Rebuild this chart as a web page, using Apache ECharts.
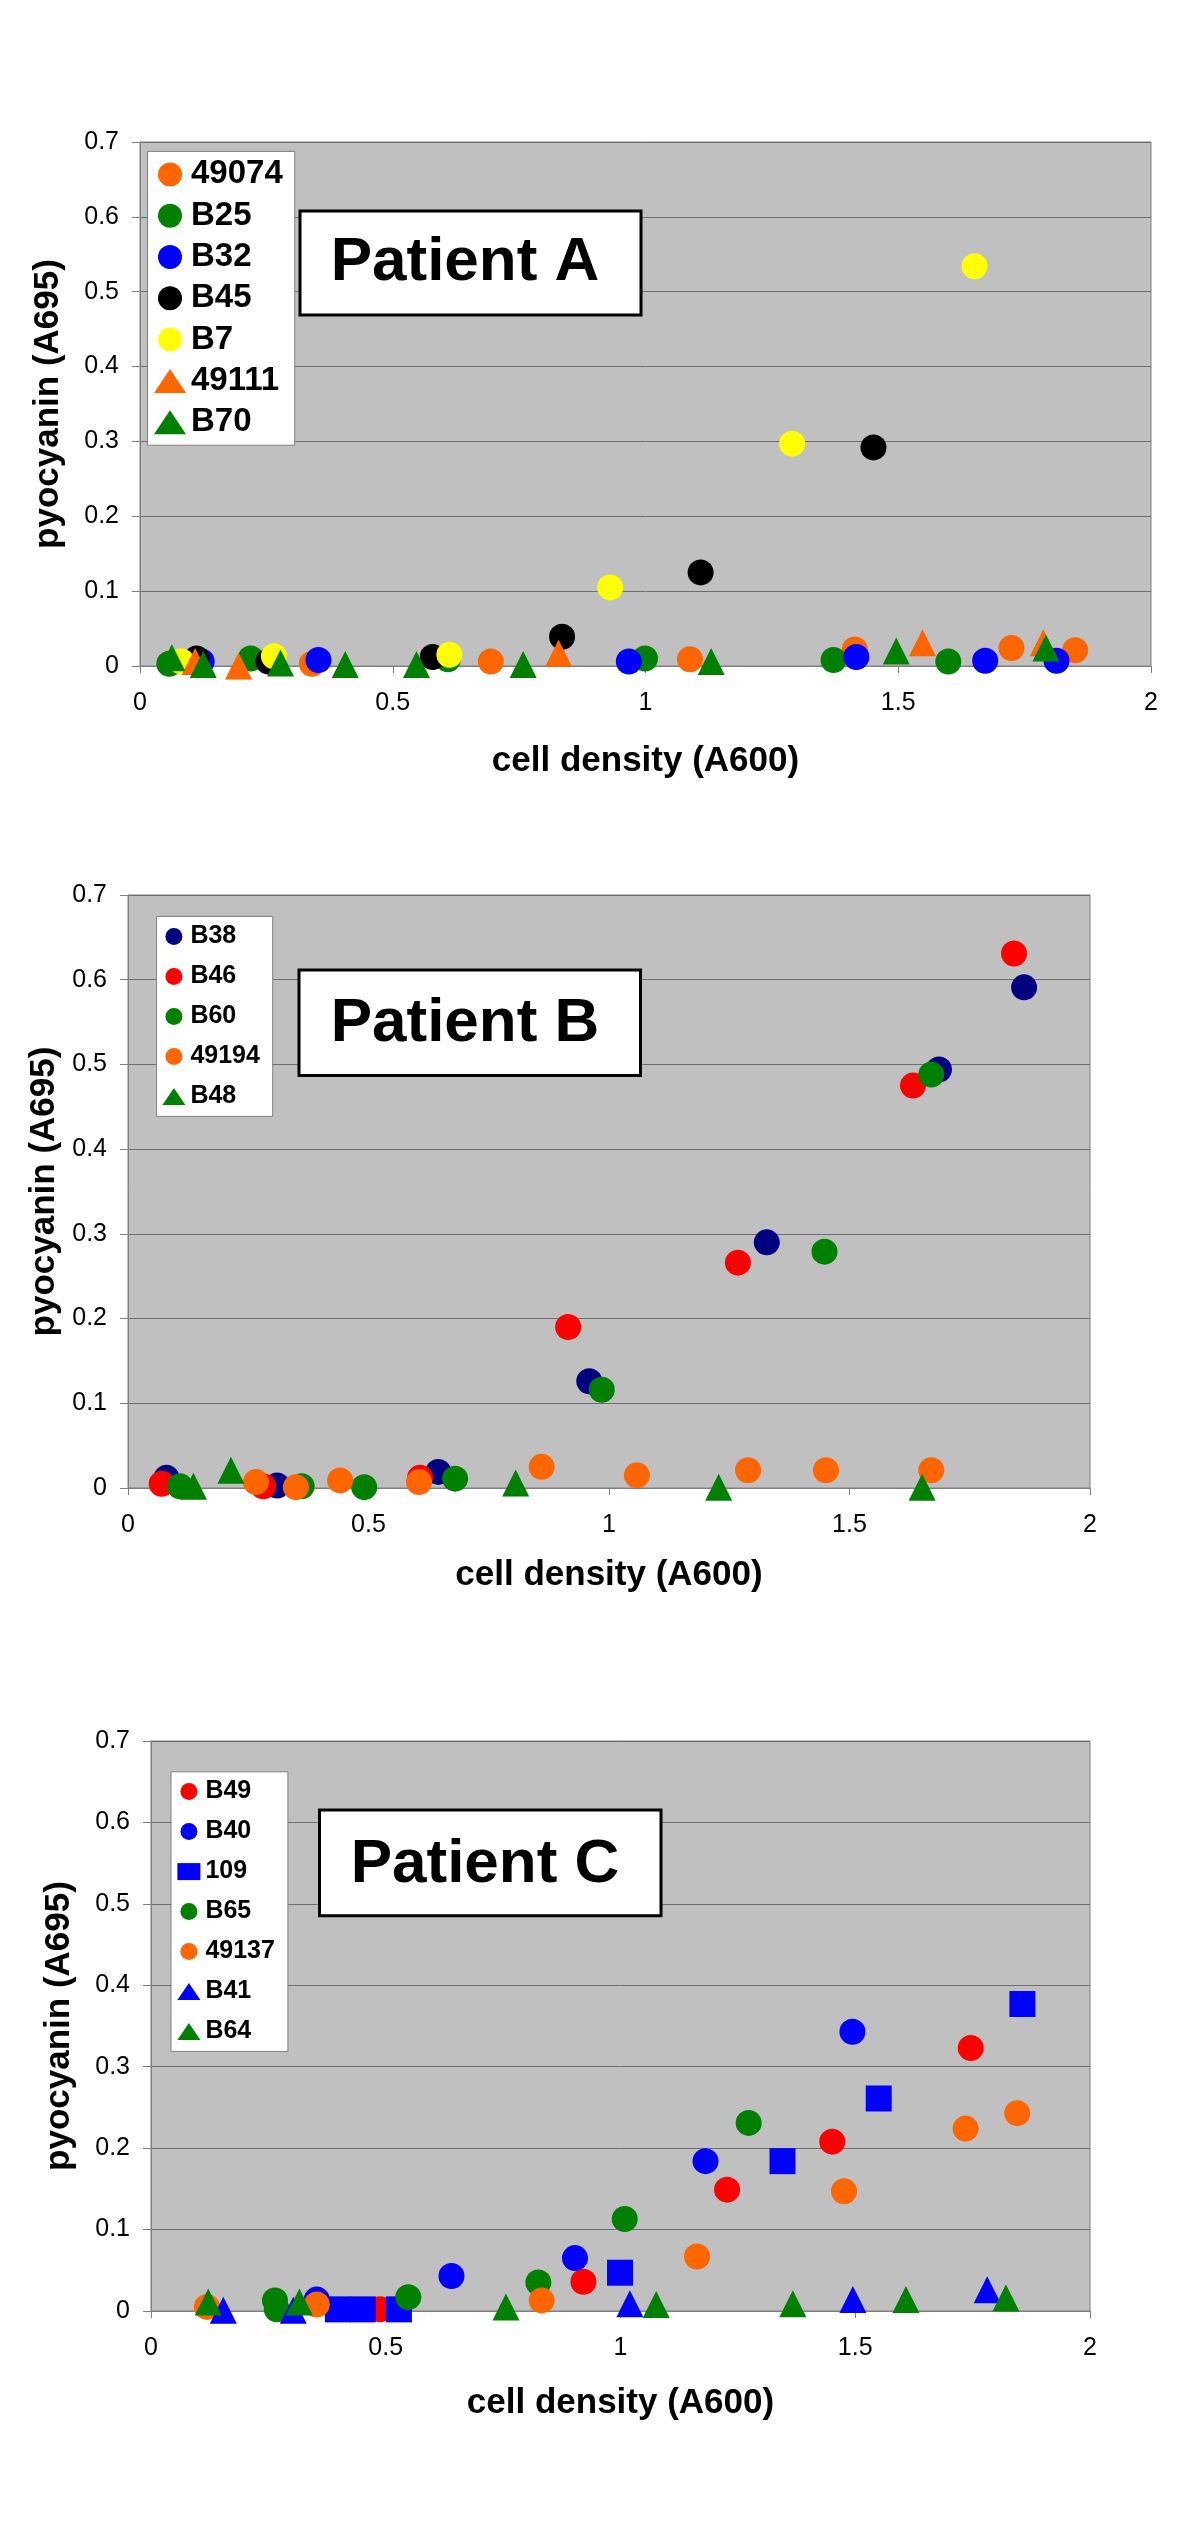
<!DOCTYPE html>
<html><head><meta charset="utf-8">
<script src="https://cdn.jsdelivr.net/npm/echarts@6/dist/echarts.min.js"></script>
<style>html,body{margin:0;padding:0;background:#fff}#chart{width:1200px;height:2540px}</style>
</head><body><div id="chart"></div>
<script>
// ---------- Patient A ----------
const A_49074 = [[0.340,0.003],[0.694,0.006],[1.088,0.009],[1.414,0.022],[1.724,0.024],[1.850,0.021]];
const A_B25   = [[0.058,0.003],[0.219,0.010],[0.609,0.009],[0.999,0.010],[1.372,0.008],[1.599,0.006]];
const A_B32   = [[0.122,0.006],[0.353,0.008],[0.967,0.006],[1.417,0.012],[1.672,0.007],[1.813,0.007]];
const A_B45   = [[0.112,0.010],[0.254,0.006],[0.579,0.012],[0.835,0.039],[1.109,0.125],[1.451,0.292]];
const A_B7    = [[0.082,0.006],[0.265,0.013],[0.612,0.015],[0.930,0.105],[1.290,0.297],[1.651,0.534]];
const A_49111 = [[0.109,0.006],[0.195,0.000],[0.828,0.017],[1.548,0.031],[1.787,0.031]];
const A_B70   = [[0.063,0.011],[0.125,0.002],[0.278,0.004],[0.406,0.002],[0.547,0.002],[0.758,0.002],[1.130,0.006],[1.496,0.020],[1.792,0.024]];
// ---------- Patient B ----------
const B_B38   = [[0.080,0.012],[0.310,0.003],[0.645,0.019],[0.959,0.126],[1.328,0.290],[1.686,0.494],[1.863,0.591]];
const B_B46   = [[0.070,0.005],[0.281,0.002],[0.607,0.012],[0.915,0.190],[1.268,0.266],[1.632,0.475],[1.842,0.631]];
const B_B60   = [[0.108,0.002],[0.361,0.002],[0.491,0.001],[0.680,0.011],[0.985,0.116],[1.448,0.279],[1.670,0.488]];
const B_49194 = [[0.266,0.007],[0.349,0.001],[0.441,0.009],[0.605,0.007],[0.860,0.025],[1.058,0.015],[1.289,0.021],[1.451,0.021],[1.670,0.021]];
const B_B48   = [[0.136,0.002],[0.214,0.021],[0.806,0.006],[1.228,0.001],[1.651,0.001]];
// ---------- Patient C ----------
const C_B49   = [[0.488,0.002],[0.921,0.036],[1.227,0.149],[1.451,0.208],[1.746,0.323]];
const C_B40   = [[0.353,0.014],[0.640,0.043],[0.903,0.065],[1.181,0.184],[1.494,0.343]];
const C_109   = [[0.398,0.002],[0.451,0.002],[0.528,0.002],[0.999,0.047],[1.345,0.184],[1.550,0.261],[1.856,0.377]];
const C_B65   = [[0.264,0.013],[0.268,0.002],[0.548,0.017],[0.825,0.035],[1.009,0.113],[1.273,0.231]];
const C_49137 = [[0.119,0.005],[0.353,0.008],[0.832,0.013],[1.163,0.067],[1.476,0.147],[1.735,0.224],[1.845,0.243]];
const C_B41   = [[0.154,0.001],[0.303,0.001],[1.020,0.009],[1.495,0.014],[1.781,0.026]];
const C_B64   = [[0.122,0.011],[0.316,0.011],[0.756,0.005],[1.076,0.008],[1.367,0.009],[1.608,0.014],[1.821,0.016]];

const panelTitles = ['Patient A','Patient B','Patient C'];
const xTitle = 'cell density (A600)';
const yTitle = 'pyocyanin (A695)';

const FONT = '"Liberation Sans", Arial, sans-serif';
const ORANGE='#FF6600', GREEN='#008000', BLUE='#0000FF', BLACK='#000000', YELLOW='#FFFF00', NAVY='#000080', RED='#FF0000';

const panels = [
  { grid:{left:140, top:142, width:1011, height:524}, xGap:78, yGap:74,
    legend:{left:147.5, top:151.4, padding:[6.5,12,6.5,6.5], itemWidth:32, itemHeight:24, itemGap:8.3, fontSize:33},
    box:{x:300, y:211, w:341, h:104, tx:465, ty:263},
    series:[['49074',A_49074,'circle',ORANGE],['B25',A_B25,'circle',GREEN],['B32',A_B32,'circle',BLUE],
            ['B45',A_B45,'circle',BLACK],['B7',A_B7,'circle',YELLOW],['49111',A_49111,'triangle',ORANGE],['B70',A_B70,'triangle',GREEN]] },
  { grid:{left:128, top:895, width:962, height:593}, xGap:70, yGap:66,
    legend:{left:156.6, top:916.4, padding:[7.5,12.8,7.5,5.8], itemWidth:23, itemHeight:17, itemGap:15, fontSize:25},
    box:{x:299, y:970, w:341.5, h:105.4, tx:465, ty:1024},
    series:[['B38',B_B38,'circle',NAVY],['B46',B_B46,'circle',RED],['B60',B_B60,'circle',GREEN],
            ['49194',B_49194,'circle',ORANGE],['B48',B_B48,'triangle',GREEN]] },
  { grid:{left:151, top:1741, width:939, height:570}, xGap:75, yGap:74,
    legend:{left:171, top:1771.8, padding:[7.3,13,7.3,6.4], itemWidth:23, itemHeight:17, itemGap:15, fontSize:25},
    box:{x:319.5, y:1810, w:341.5, h:105.7, tx:485, ty:1864.5},
    series:[['B49',C_B49,'circle',RED],['B40',C_B40,'circle',BLUE],['109',C_109,'rect',BLUE],['B65',C_B65,'circle',GREEN],
            ['49137',C_49137,'circle',ORANGE],['B41',C_B41,'triangle',BLUE],['B64',C_B64,'triangle',GREEN]] }
];

const option = { animation:false, grid:[], xAxis:[], yAxis:[], legend:[], series:[], graphic:[] };

panels.forEach((p, i) => {
  option.grid.push(Object.assign({show:true, backgroundColor:'#C0C0C0', borderColor:'#808080', borderWidth:1}, p.grid));
  option.xAxis.push({
    type:'value', gridIndex:i, min:0, max:2, interval:0.5,
    axisLine:{show:true, onZero:false, lineStyle:{color:'#808080', width:1}},
    axisTick:{show:true, inside:false, length:7, lineStyle:{color:'#808080'}},
    axisLabel:{fontSize:25, color:'#000', margin:25, fontFamily:FONT},
    splitLine:{show:false},
    name:xTitle, nameLocation:'middle', nameGap:p.xGap,
    nameTextStyle:{fontSize:35, fontWeight:'bold', color:'#000', fontFamily:FONT}
  });
  option.yAxis.push({
    type:'value', gridIndex:i, min:0, max:0.7, interval:0.1,
    axisLine:{show:true, lineStyle:{color:'#808080', width:1}},
    axisTick:{show:true, inside:false, length:8, lineStyle:{color:'#808080'}},
    axisLabel:{fontSize:25, color:'#000', margin:21, fontFamily:FONT},
    splitLine:{show:true, lineStyle:{color:'#6e6e6e', width:1}},
    name:yTitle, nameLocation:'middle', nameRotate:90, nameGap:p.yGap,
    nameTextStyle:{fontSize:35, fontWeight:'bold', color:'#000', fontFamily:FONT}
  });
  const L = p.legend;
  option.legend.push({
    orient:'vertical', left:L.left, top:L.top, padding:L.padding,
    itemWidth:L.itemWidth, itemHeight:L.itemHeight, itemGap:L.itemGap,
    backgroundColor:'#fff', borderColor:'#808080', borderWidth:1, selectedMode:false,
    textStyle:{fontSize:L.fontSize, fontWeight:'bold', color:'#000', fontFamily:FONT},
    data:p.series.map(s => ({name:s[0], icon:s[2]}))
  });
  p.series.forEach(s => {
    option.series.push({
      type:'scatter', name:s[0], data:s[1], symbol:s[2],
      symbolSize: s[2]==='triangle' ? [27,27] : 26,
      xAxisIndex:i, yAxisIndex:i, clip:false,
      itemStyle:{color:s[3], opacity:1, borderWidth:0},
      emphasis:{disabled:true}
    });
  });
  const b = p.box;
  option.graphic.push({type:'rect', z:100, shape:{x:b.x, y:b.y, width:b.w, height:b.h},
    style:{fill:'#fff', stroke:'#000', lineWidth:3}});
  option.graphic.push({type:'text', z:101, x:b.tx, y:b.ty,
    style:{text:panelTitles[i], fill:'#000', font:'bold 62px '+FONT, textAlign:'center', textVerticalAlign:'middle'}});
});

const chart = echarts.init(document.getElementById('chart'), null, {renderer:'canvas'});
chart.setOption(option);
</script>
</body></html>
